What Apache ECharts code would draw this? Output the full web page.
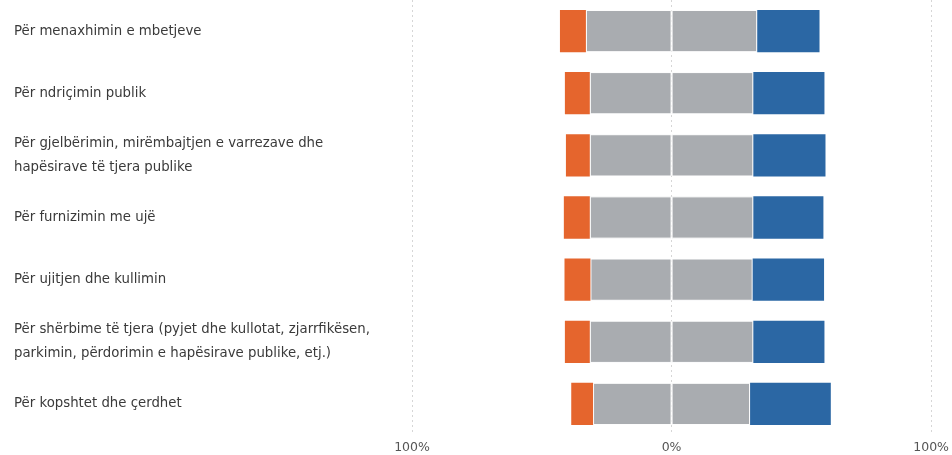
<!DOCTYPE html>
<html>
<head>
<meta charset="utf-8">
<style>
  html, body { margin: 0; padding: 0; background: #fff; }
  #chart { width: 952px; height: 455px; }
</style>
<script src="https://cdn.jsdelivr.net/npm/echarts@6/dist/echarts.min.js"></script>
</head>
<body>
<div id="chart"></div>
<script>
const categories = [
  "Për menaxhimin e mbetjeve",
  "Për ndriçimin publik",
  "Për gjelbërimin, mirëmbajtjen e varrezave dhe\nhapësirave të tjera publike",
  "Për furnizimin me ujë",
  "Për ujitjen dhe kullimin",
  "Për shërbime të tjera (pyjet dhe kullotat, zjarrfikësen,\nparkimin, përdorimin e hapësirave publike, etj.)",
  "Për kopshtet dhe çerdhet"
];
const negativeValues = [10, 9.6, 9.2, 10, 10, 9.6, 8.4];
const neutralValues  = [66, 63, 63, 63, 62.5, 63, 60.5];
const positiveValues = [24, 27.4, 27.8, 27, 27.5, 27.4, 31.1];
const tickValues = [-100, 0, 100];

const chart = echarts.init(document.getElementById('chart'), null, { renderer: 'canvas' });

const grayStyle = { color: '#a9acb0', borderColor: '#ffffff', borderWidth: 1 };

chart.setOption({
  animation: false,
  backgroundColor: '#ffffff',
  grid: { left: 412, right: 20, top: -8, height: 443, containLabel: false },
  xAxis: {
    type: 'value',
    min: tickValues[0],
    max: tickValues[tickValues.length - 1],
    interval: 100,
    axisLine: { show: false },
    axisTick: { show: false },
    splitLine: { show: true, lineStyle: { color: '#d6d6d6', type: [2, 3], width: 1 } },
    axisLabel: {
      color: '#555',
      fontFamily: 'DejaVu Sans',
      fontSize: 12.5,
      margin: 6,
      formatter: v => Math.abs(v) + '%'
    }
  },
  yAxis: {
    type: 'category',
    inverse: true,
    data: categories,
    axisLine: { show: false },
    axisTick: { show: false },
    splitLine: { show: false },
    axisLabel: {
      align: 'left',
      margin: 398,
      color: '#3a3a3a',
      fontFamily: 'DejaVu Sans',
      fontSize: 13.3,
      lineHeight: 24
    }
  },
  series: [
    {
      name: 'neutral-left', type: 'bar', stack: 'total', barCategoryGap: '32%',
      itemStyle: grayStyle,
      data: neutralValues.map(v => -v / 2)
    },
    {
      name: 'negative', type: 'bar', stack: 'total',
      itemStyle: { color: '#e5652d' },
      data: negativeValues.map(v => -v)
    },
    {
      name: 'neutral-right', type: 'bar', stack: 'total',
      itemStyle: grayStyle,
      data: neutralValues.map(v => v / 2)
    },
    {
      name: 'positive', type: 'bar', stack: 'total',
      itemStyle: { color: '#2b67a4' },
      data: positiveValues
    }
  ]
});
</script>
</body>
</html>
